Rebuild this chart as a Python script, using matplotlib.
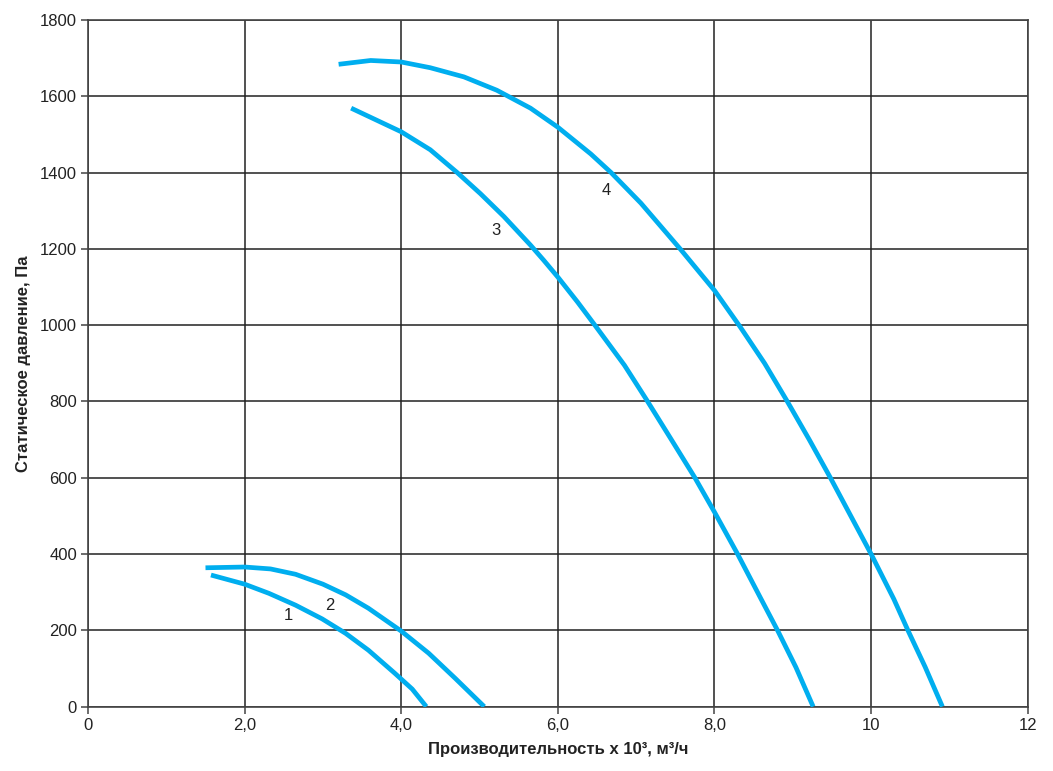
import numpy as np
import matplotlib
matplotlib.use("Agg")
import matplotlib.pyplot as plt

plt.rcParams['font.family'] = ['Liberation Sans', 'DejaVu Sans']

# Curve readings (flow x 10^3 m3/h, static pressure Pa)
q1 = [1.57, 2.0, 2.31, 2.65, 2.99, 3.29, 3.58, 3.92, 4.14, 4.32]
p1 = [345, 321, 297, 266, 230, 192, 148, 87, 46, 0]

q2 = [1.50, 2.0, 2.33, 2.65, 3.0, 3.29, 3.58, 4.0, 4.35, 4.69, 5.06]
p2 = [364, 366, 361, 347, 321, 293, 258, 198, 140, 74, 0]

q3 = [3.36, 4.0, 4.37, 4.715, 5.01, 5.31, 5.65, 5.82, 6.0, 6.25, 6.48,
      6.85, 7.14, 7.44, 7.75, 8.0, 8.295, 8.59, 8.81, 9.04, 9.26]
p3 = [1569, 1507, 1460, 1400, 1345, 1285, 1210, 1170, 1126, 1061, 998,
      895, 802, 703, 600, 510, 400, 284, 198, 103, 0]

q4 = [3.20, 3.61, 4.0, 4.37, 4.80, 5.22, 5.65, 6.0, 6.42, 6.68, 7.06,
      7.57, 8.0, 8.33, 8.64, 8.93, 9.21, 9.48, 9.74, 10.0, 10.29, 10.47, 10.69, 10.91]
p4 = [1684, 1694, 1690, 1675, 1651, 1616, 1569, 1519, 1449, 1400, 1320,
      1198, 1091, 995, 900, 800, 700, 600, 500, 400, 282, 200, 104, 0]

curve_names = ["1", "2", "3", "4"]
label_q = [2.56, 3.09, 5.21, 6.62]
label_p = [238, 264, 1248, 1354]

x_ticks = [0, 2, 4, 6, 8, 10, 12]
x_tick_labels = ["0", "2,0", "4,0", "6,0", "8,0", "10", "12"]
y_ticks = list(range(0, 1801, 200))

fig = plt.figure(figsize=(10.53, 7.71), dpi=100)
ax = fig.add_axes([0.0836, 0.0835, 0.8924, 0.8905])

blue = '#00aeef'
for q, p in [(q1, p1), (q2, p2), (q3, p3), (q4, p4)]:
    ax.plot(q, p, color=blue, lw=3.4, solid_capstyle='butt',
            solid_joinstyle='round', zorder=3)

for name, lq, lp in zip(curve_names, label_q, label_p):
    ax.text(lq, lp, name, fontsize=12, color='#222222', ha='center', va='center')

ax.set_xlim(0, 12)
ax.set_ylim(0, 1800)
ax.set_xticks(x_ticks)
ax.set_xticklabels(x_tick_labels)
ax.set_yticks(y_ticks)

ax.grid(True, color='#222222', lw=1.1)
ax.set_axisbelow(True)
for s in ax.spines.values():
    s.set_color('#444444')
    s.set_linewidth(1.2)
ax.tick_params(direction='out', length=5, width=1.1, color='#444444',
               labelsize=12, labelcolor='#222222', pad=3)

ax.set_xlabel("Производительность x 10³, м³/ч", fontsize=12, fontweight='bold',
              color='#222222', labelpad=7)
ax.set_ylabel("Статическое давление, Па", fontsize=12, fontweight='bold',
              color='#222222', labelpad=6)

fig.savefig("out.png", dpi=100)
